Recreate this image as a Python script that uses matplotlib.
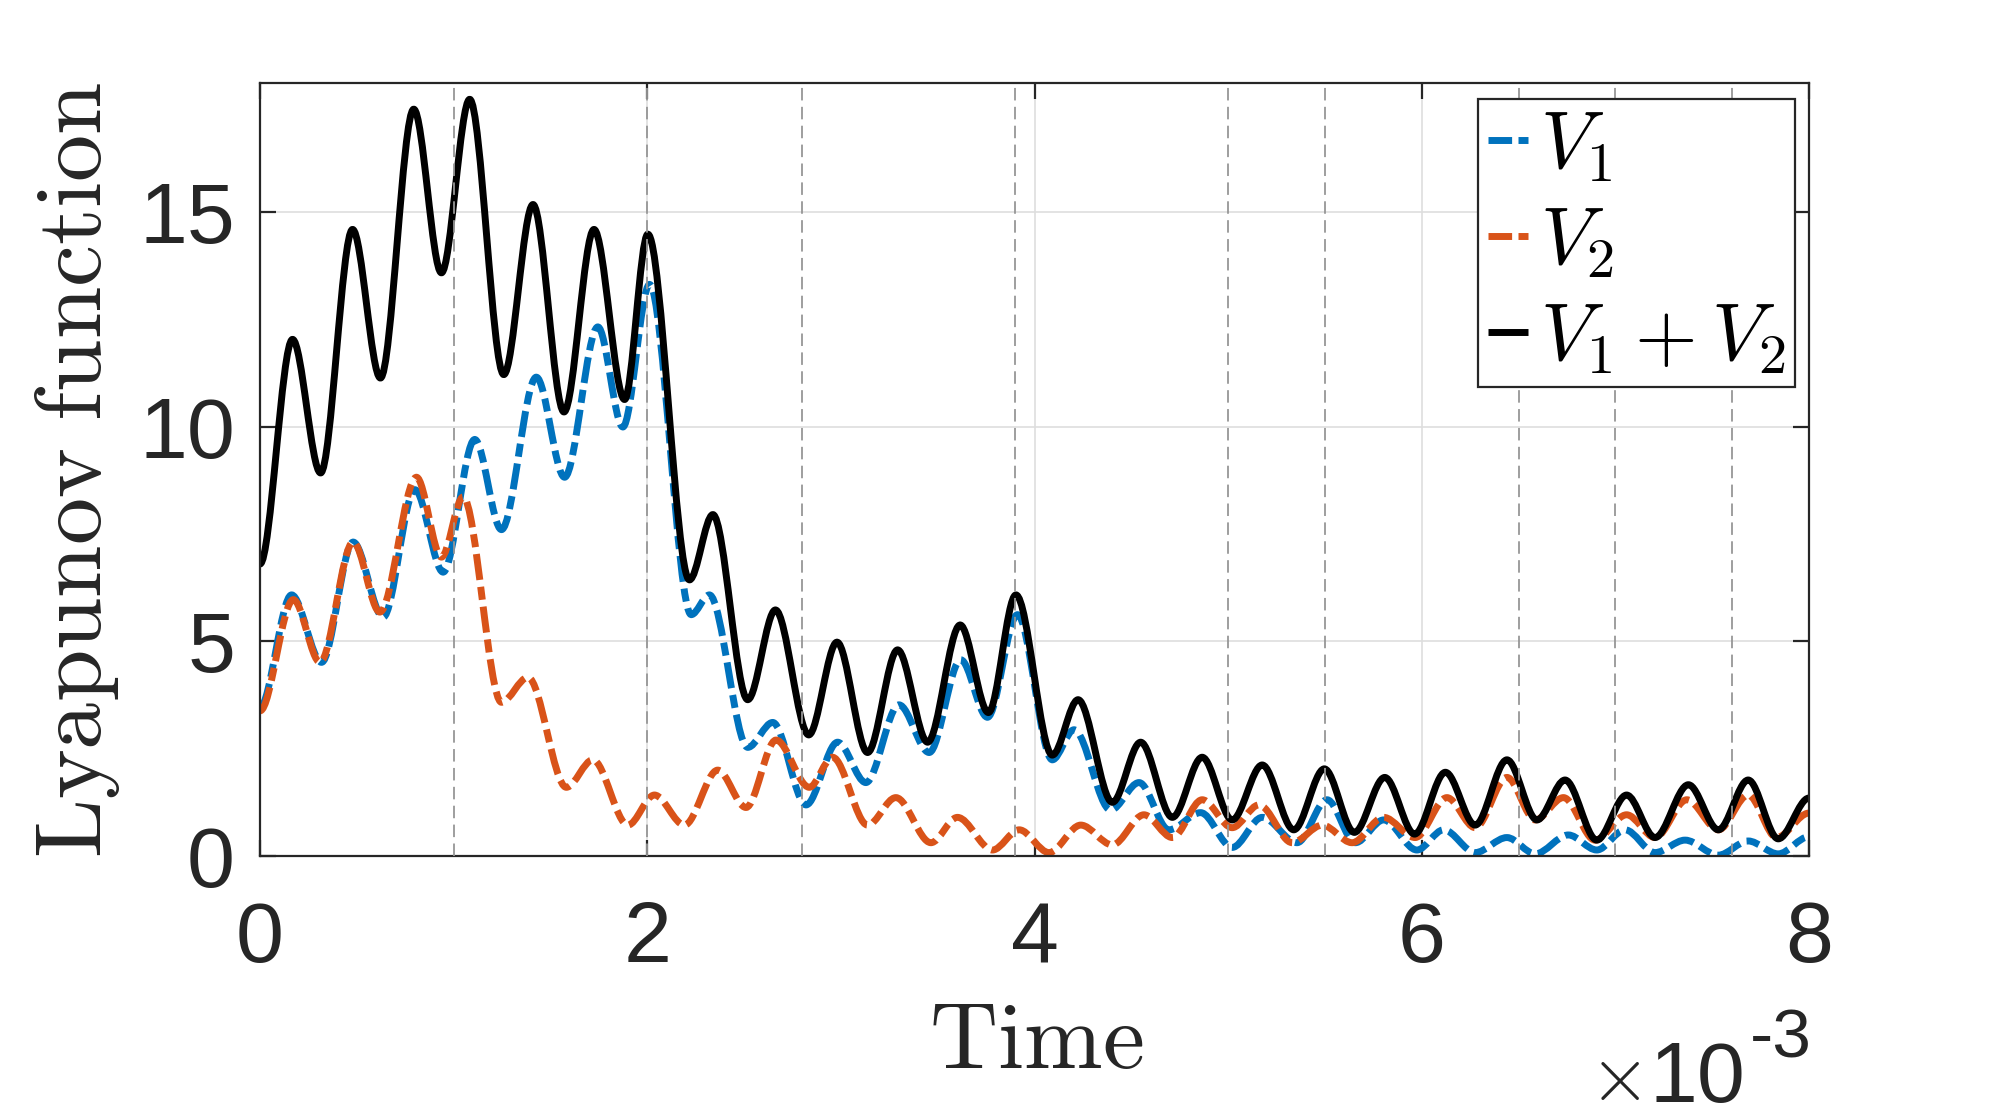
import numpy as np
import matplotlib
matplotlib.use("Agg")
import matplotlib.pyplot as plt
from matplotlib.path import Path
from matplotlib.patches import PathPatch
from matplotlib.lines import Line2D

# times in units of 1e-3 s, values read at the peaks / troughs of each curve
t_sum = [0, 0.168, 0.313, 0.478, 0.622, 0.794, 0.937, 1.083, 1.259, 1.41, 1.57, 1.725, 1.883, 2.003,
         2.218, 2.339, 2.519, 2.662, 2.834, 2.98, 3.138, 3.293, 3.448, 3.616, 3.762, 3.904, 4.092,
         4.225, 4.402, 4.548, 4.712, 4.866, 5.021, 5.176, 5.339, 5.497, 5.652, 5.809, 5.963, 6.122,
         6.276, 6.44, 6.595, 6.74, 6.904, 7.058, 7.205, 7.377, 7.532, 7.686, 7.841, 8.0]
v_sum = [6.8, 12.03, 8.92, 14.59, 11.13, 17.39, 13.58, 17.62, 11.21, 15.17, 10.34, 14.59, 10.63, 14.48,
         6.43, 7.95, 3.64, 5.73, 2.82, 4.98, 2.41, 4.80, 2.65, 5.38, 3.34, 6.08, 2.35,
         3.64, 1.25, 2.65, 0.90, 2.30, 0.84, 2.12, 0.61, 2.03, 0.55, 1.83, 0.51, 1.95,
         0.72, 2.24, 0.84, 1.77, 0.37, 1.42, 0.43, 1.66, 0.61, 1.77, 0.40, 1.35]

t_v1 = [0, 0.163, 0.318, 0.481, 0.636, 0.8, 0.946, 1.109, 1.247, 1.427, 1.573, 1.745, 1.874, 2.012,
        2.227, 2.321, 2.519, 2.648, 2.82, 2.983, 3.129, 3.3, 3.456, 3.619, 3.757, 3.912, 4.092,
        4.204, 4.393, 4.54, 4.694, 4.858, 5.021, 5.176, 5.356, 5.511, 5.657, 5.803, 5.975, 6.113,
        6.276, 6.44, 6.586, 6.757, 6.904, 7.05, 7.205, 7.36, 7.532, 7.686, 7.841, 8.0]
v_v1 = [3.46, 6.08, 4.51, 7.31, 5.56, 8.53, 6.61, 9.7, 7.6, 11.15, 8.82, 12.32, 9.99, 13.31,
        5.62, 6.08, 2.53, 3.11, 1.19, 2.65, 1.71, 3.52, 2.41, 4.57, 3.23, 5.62, 2.24,
        2.94, 1.07, 1.71, 0.61, 1.01, 0.20, 0.90, 0.31, 1.31, 0.31, 0.84, 0.14, 0.61,
        0.08, 0.43, 0.05, 0.49, 0.14, 0.61, 0.08, 0.37, 0.02, 0.35, 0.05, 0.45]

t_v2 = [0, 0.172, 0.31, 0.481, 0.619, 0.808, 0.937, 1.049, 1.247, 1.384, 1.582, 1.719, 1.9, 2.037,
        2.192, 2.364, 2.51, 2.665, 2.837, 2.957, 3.138, 3.284, 3.465, 3.602, 3.783, 3.921, 4.075,
        4.239, 4.402, 4.565, 4.712, 4.866, 5.021, 5.159, 5.331, 5.486, 5.64, 5.803, 5.966, 6.13,
        6.276, 6.44, 6.586, 6.732, 6.895, 7.058, 7.205, 7.369, 7.532, 7.686, 7.832, 8.0]
v_v2 = [3.38, 5.97, 4.51, 7.31, 5.68, 8.82, 6.96, 8.36, 3.58, 4.16, 1.6, 2.24, 0.72, 1.42,
        0.72, 2.0, 1.13, 2.70, 1.60, 2.30, 0.72, 1.36, 0.31, 0.90, 0.14, 0.61, 0.08,
        0.72, 0.26, 0.96, 0.43, 1.31, 0.66, 1.19, 0.31, 0.72, 0.31, 0.90, 0.43, 1.36,
        0.66, 1.83, 0.84, 1.36, 0.37, 0.96, 0.43, 1.31, 0.61, 1.42, 0.43, 1.0]

event_times = [1.0, 2.0, 2.8, 3.9, 5.0, 5.5, 6.5, 7.0, 7.6]

labels = [r"$V_1$", r"$V_2$", r"$V_1+V_2$"]
x_ticks = [0, 2, 4, 6, 8]
y_ticks = [0, 5, 10, 15]

blue = "#0072BD"
orange = "#D95319"
axis_col = "#262626"

plt.rcParams["font.family"] = "Liberation Sans"
plt.rcParams["mathtext.fontset"] = "cm"
plt.rcParams["lines.scale_dashes"] = False


def smooth_path(t, v):
    # cubic segments with flat tangents at each read extremum
    verts = [(t[0], v[0])]
    codes = [Path.MOVETO]
    for i in range(1, len(t)):
        dt = t[i] - t[i - 1]
        verts += [(t[i - 1] + dt / 3, v[i - 1]), (t[i] - dt / 3, v[i]), (t[i], v[i])]
        codes += [Path.CURVE4] * 3
    return Path(verts, codes)


dashdot = (0, (9.4, 2.5, 4.7, 2.5))
lw = 2.5

fig = plt.figure(figsize=(10, 5.6), dpi=200)
ax = fig.add_axes([0.13, 0.2357, 0.7745, 0.6902])

ax.add_patch(PathPatch(smooth_path(t_v1, v_v1), fill=False, edgecolor=blue, lw=lw,
                       linestyle=dashdot, capstyle="butt", joinstyle="round", zorder=2))
ax.add_patch(PathPatch(smooth_path(t_v2, v_v2), fill=False, edgecolor=orange, lw=lw,
                       linestyle=dashdot, capstyle="butt", joinstyle="round", zorder=2.1))
ax.add_patch(PathPatch(smooth_path(t_sum, v_sum), fill=False, edgecolor="black", lw=lw,
                       linestyle="-", capstyle="round", joinstyle="round", zorder=2.2))

for te in event_times:
    ax.axvline(te, color="#969696", lw=0.65, linestyle=(0, (4.5, 2.3)), zorder=3)

ax.set_xlim(0, 8)
ax.set_ylim(0, 18)
ax.set_xticks(x_ticks)
ax.set_yticks(y_ticks)
ax.grid(True, color="#dedede", lw=0.6, zorder=0)
ax.set_axisbelow(True)

for s in ax.spines.values():
    s.set_color(axis_col)
    s.set_linewidth(0.8)
ax.tick_params(direction="in", length=5.8, width=0.8, color=axis_col, labelcolor=axis_col,
               labelsize=31, top=True, right=True)
ax.tick_params(axis="x", pad=16)
ax.tick_params(axis="y", pad=9)

handles = [Line2D([], [], color=blue, lw=lw, linestyle=(0, (8.5, 2.3, 4.3, 2.3)),
                  dash_capstyle="butt"),
           Line2D([], [], color=orange, lw=lw, linestyle=(0, (8.5, 2.3, 4.3, 2.3)),
                  dash_capstyle="butt"),
           Line2D([], [], color="black", lw=lw, solid_capstyle="butt")]
leg = ax.legend(handles, labels, loc="upper right", bbox_to_anchor=(0.991, 0.979),
                borderaxespad=0, fontsize=29, handlelength=0.5, handletextpad=0.15,
                labelspacing=0.25, borderpad=0.12, fancybox=False, framealpha=1)
leg.get_frame().set_edgecolor(axis_col)
leg.get_frame().set_linewidth(0.8)
leg.set_zorder(5)

fig.text(0.518, 1 - 1068 / 1120, r"$\mathrm{Time}$", ha="center", va="baseline",
         fontsize=34, color=axis_col)
fig.text(0.0388, 1 - 470 / 1120, r"$\mathrm{Lyapunov\ function}$", ha="center", va="center",
         rotation=90, fontsize=34, color=axis_col)
fig.text(1640 / 2000, 1 - 1100 / 1120, r"$\times$", ha="right", va="baseline",
         fontsize=28, color=axis_col)
fig.text(1745 / 2000, 1 - 1102 / 1120, "10", ha="right", va="baseline",
         fontsize=31, color=axis_col)
fig.text(1750 / 2000, 1 - 1058 / 1120, "-3", ha="left", va="baseline",
         fontsize=25, color=axis_col)

fig.savefig("out.png", dpi=200, facecolor="white")
